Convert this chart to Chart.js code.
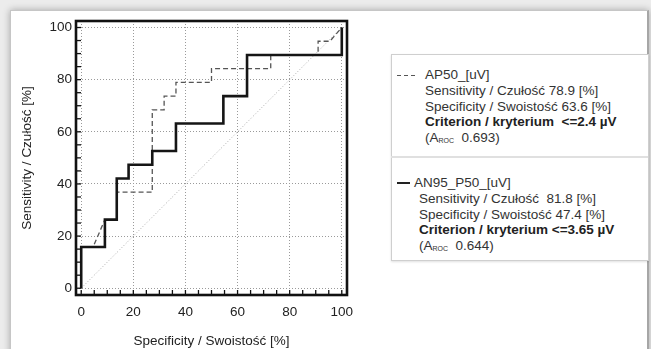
<!DOCTYPE html>
<html><head><meta charset="utf-8">
<script src="https://cdn.jsdelivr.net/npm/chart.js@4.4.0/dist/chart.umd.min.js"></script>
<style>
html,body{margin:0;padding:0;width:651px;height:349px;overflow:hidden;background:#ececec;font-family:"Liberation Sans",Arial,sans-serif;}
#card{position:absolute;left:10px;top:10px;width:636px;height:360px;background:#fff;border:1px solid #c6c6c6;border-right:2px solid #a6a6a6;box-shadow:0 0 7px rgba(0,0,0,0.3);}
#legend{position:absolute;left:391px;top:54px;width:256px;height:205px;border:1px solid #cfcfcf;background:#fff;box-shadow:0 1px 2px rgba(0,0,0,0.12);}
#divider{position:absolute;left:391px;top:156px;width:257px;height:2px;background:#e0e0e0;}
.blk{position:absolute;font-size:13.5px;line-height:15.8px;color:#333;white-space:pre;}
.b{font-weight:bold;color:#222;}
.sub{font-size:7px;vertical-align:-1px;}
#s1{position:absolute;left:397px;top:75px;width:19px;height:1px;background:repeating-linear-gradient(90deg,#555 0,#555 4px,transparent 4px,transparent 7px);}
#s2{position:absolute;left:397px;top:182px;width:13px;height:2px;background:#222;}
#c{position:absolute;left:0;top:0;}
</style></head>
<body>
<div id="card"></div>
<div id="legend"></div>
<div id="divider"></div>
<div id="s1"></div>
<div id="s2"></div>
<div class="blk" style="left:425px;top:67px;">AP50_[uV]
Sensitivity / Czułość 78.9 [%]
Specificity / Swoistość 63.6 [%]
<span class="b">Criterion / kryterium  &lt;=2.4 µV</span>
(A<span class="sub">ROC</span>  0.693)</div>
<div class="blk" style="left:414px;top:175px;">AN95_P50_[uV]</div>
<div class="blk" style="left:419px;top:190.8px;">Sensitivity / Czułość  81.8 [%]
Specificity / Swoistość 47.4 [%]
<span class="b">Criterion / kryterium &lt;=3.65 µV</span>
(A<span class="sub">ROC</span>  0.644)</div>
<canvas id="c" width="651" height="349"></canvas>
<script>
// Tick labels
const specTicks = [0, 20, 40, 60, 80, 100];
const sensTicks = [0, 20, 40, 60, 80, 100];
// AN95_P50_[uV] ROC curve (solid)
const an95Spec = [0, 0, 9.09, 9.09, 13.64, 13.64, 18.18, 18.18, 27.27, 27.27, 36.36, 36.36, 54.55, 54.55, 63.64, 63.64, 100, 100];
const an95Sens = [0, 15.79, 15.79, 26.32, 26.32, 42.11, 42.11, 47.37, 47.37, 52.63, 52.63, 63.16, 63.16, 73.68, 73.68, 89.47, 89.47, 100];
// AP50_[uV] ROC curve (dashed)
const ap50Spec = [0, 0, 4.55, 9.09, 13.64, 13.64, 27.27, 27.27, 31.82, 31.82, 36.36, 36.36, 50, 50, 72.73, 72.73, 90.91, 90.91, 95.45, 100];
const ap50Sens = [0, 15.79, 15.79, 26.32, 26.32, 36.84, 36.84, 68.42, 68.42, 73.68, 73.68, 78.95, 78.95, 84.21, 84.21, 89.47, 89.47, 94.74, 94.74, 100];
// Reference diagonal
const refSpec = [0, 100];
const refSens = [0, 100];

const minorStep = 5;
const toPts = (xs, ys) => xs.map((v, i) => ({x: v, y: ys[i]}));
const FONT = {family: '"Liberation Sans", Arial, sans-serif', size: 13.5};

const framePlugin = {
  id: 'frame',
  afterDatasetsDraw(chart) {
    const {ctx, chartArea: a, scales: {x, y}} = chart;
    ctx.save();
    ctx.strokeStyle = '#111';
    ctx.lineWidth = 1.3;
    for (let v = 0; v <= 100; v += minorStep) {
      const px = x.getPixelForValue(v);
      ctx.beginPath(); ctx.moveTo(px, a.bottom); ctx.lineTo(px, a.bottom - 5); ctx.stroke();
      const py = y.getPixelForValue(v);
      ctx.beginPath(); ctx.moveTo(a.left, py); ctx.lineTo(a.left + 5, py); ctx.stroke();
    }
    ctx.lineWidth = 2.6;
    ctx.strokeRect(a.left, a.top, a.right - a.left, a.bottom - a.top);
    ctx.restore();
  }
};

new Chart(document.getElementById('c'), {
  type: 'scatter',
  data: {
    datasets: [
      {label: 'AN95_P50_[uV]', data: toPts(an95Spec, an95Sens), showLine: true, borderColor: '#151515', borderWidth: 2.6, pointRadius: 0, fill: false, tension: 0},
      {label: 'AP50_[uV]', data: toPts(ap50Spec, ap50Sens), showLine: true, borderColor: '#555', borderWidth: 1.3, borderDash: [5, 3], pointRadius: 0, fill: false, tension: 0},
      {label: 'ref', data: toPts(refSpec, refSens), showLine: true, borderColor: '#aaa', borderWidth: 1, borderDash: [1, 2], pointRadius: 0, fill: false}
    ]
  },
  options: {
    responsive: false,
    animation: false,
    events: [],
    layout: {padding: {top: 21, right: 304, left: 0, bottom: 0}},
    plugins: {legend: {display: false}, tooltip: {enabled: false}},
    scales: {
      x: {
        type: 'linear', min: -2, max: 102,
        afterBuildTicks: s => { s.ticks = specTicks.map(v => ({value: v})); },
        afterFit: s => { s.height = 54; },
        grid: {color: '#9a9a9a', lineWidth: 1, drawTicks: false},
        border: {display: false, dash: [1, 2]},
        ticks: {font: FONT, color: '#222', padding: 9, maxRotation: 0},
        title: {display: true, text: 'Specificity / Swoistość [%]', font: FONT, color: '#222', padding: {top: 0, bottom: 0}}
      },
      y: {
        type: 'linear', min: -2.6, max: 102.5,
        afterBuildTicks: s => { s.ticks = sensTicks.map(v => ({value: v})); },
        afterFit: s => { s.width = 76; },
        grid: {color: '#9a9a9a', lineWidth: 1, drawTicks: false},
        border: {display: false, dash: [1, 2]},
        ticks: {font: FONT, color: '#222', padding: 4},
        title: {display: true, text: 'Sensitivity / Czułość [%]', font: FONT, color: '#222', padding: {top: 19, bottom: 0}}
      }
    }
  },
  plugins: [framePlugin]
});
</script>
</body></html>
